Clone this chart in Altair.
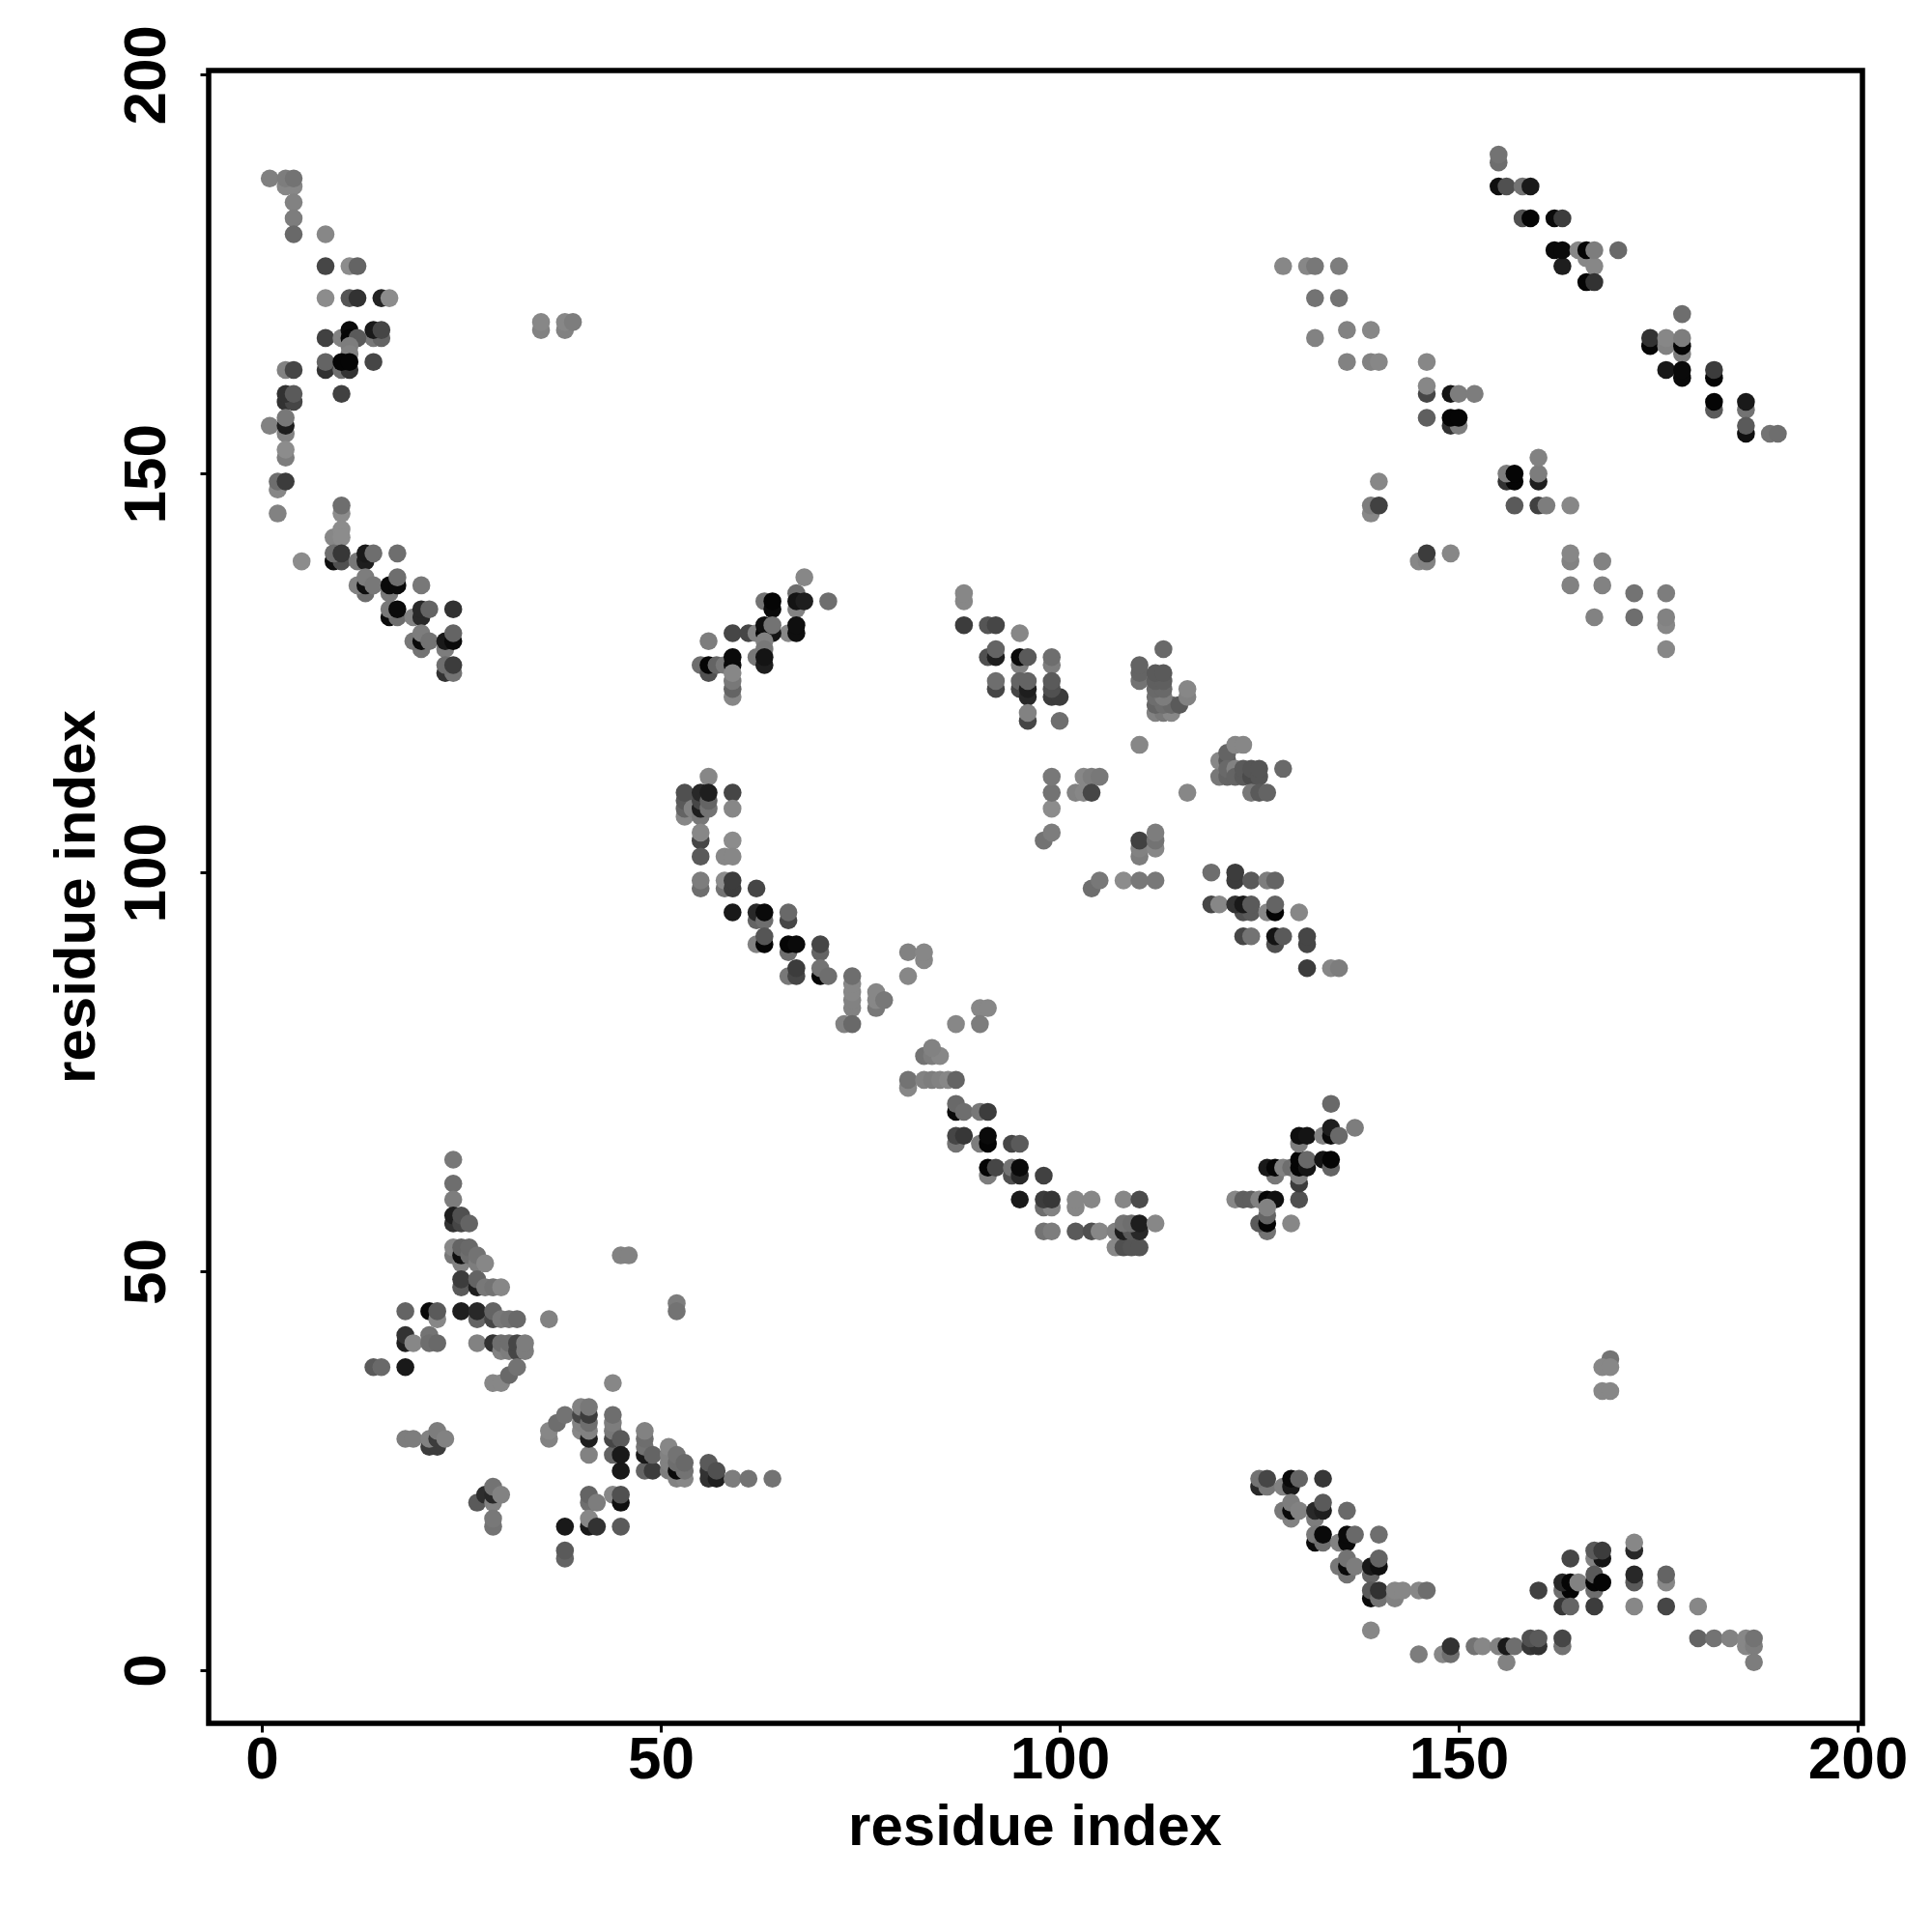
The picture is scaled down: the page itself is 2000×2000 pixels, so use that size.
import altair as alt
import pandas as pd

# each entry: residue i, residue j, grey level (0 = black, 255 = white)
top_left = [
(1,187,128),(3,186,135),(4,186,135),(3,187,125),(4,187,115),(4,184,130),(4,182,125),(4,180,105),
(8,180,135),(8,176,70),(11,176,140),(12,176,100),(8,172,140),(11,172,85),(12,172,50),(15,172,35),(16,172,140),
(8,167,65),(10,167,130),(11,168,10),(11,167,5),(14,167,120),(15,167,100),(14,168,25),(15,168,70),(12,167,90),
(11,166,125),(11,165,130),(8,163,50),(8,164,100),(10,163,110),(11,163,50),(10,164,5),(11,164,5),(14,164,70),
(3,163,130),(4,163,70),(10,160,65),(3,159,50),(4,159,70),(3,160,50),(4,160,90),
(1,156,130),(3,155,130),(3,156,30),(3,157,120),(3,152,125),(3,153,140),(2,148,135),(2,149,110),(3,149,60),(2,145,130),
]
helix_b = [
(10,145,140),(10,146,110),(9,142,135),(10,143,140),(10,142,140),(5,139,140),(9,139,15),(10,139,80),(9,140,110),(10,140,55),
(12,139,120),(13,139,30),(13,140,25),(14,140,110),(17,140,110),
(13,135,110),(12,136,130),(13,136,15),(13,137,125),(14,136,120),(16,135,120),(16,136,10),(17,136,10),(17,137,110),(20,136,120),
(16,132,10),(17,132,110),(16,133,120),(17,133,10),(19,132,130),(20,132,40),(20,133,40),(21,133,100),(24,133,50),
(19,129,120),(20,128,115),(20,129,10),(20,130,125),(21,129,115),(23,128,125),(23,129,25),(24,129,10),(24,130,100),
(23,125,50),(24,125,115),(23,126,110),(24,126,60),
(35,168,130),(35,169,135),(38,168,130),(38,169,135),(39,169,125),
]
mid_upper = [
(68,137,135),(67,133,130),(67,135,110),(67,134,20),(68,134,30),(71,134,110),(63,134,115),(64,133,10),(64,134,5),
(66,130,135),(67,130,15),(67,131,15),(59,130,70),(61,130,70),(62,130,130),(63,130,5),(64,130,20),(63,131,15),(64,131,115),
(56,129,125),(63,129,130),(63,128,120),(62,127,120),(63,126,30),(63,127,20),
(55,126,110),(56,125,80),(56,126,5),(57,126,100),(58,126,120),(59,126,10),(59,127,10),
(59,122,135),(59,123,100),(59,124,120),(59,125,135),
(88,134,135),(88,135,135),(88,131,60),(91,131,85),(92,131,70),(95,130,135),
(91,127,80),(92,127,30),(92,128,100),(95,126,130),(95,127,10),(96,127,90),(99,126,125),(99,127,110),
(92,123,70),(92,124,110),(95,123,70),(95,124,100),(96,122,40),(96,123,30),(96,124,100),
(99,122,60),(100,122,60),(99,123,80),(99,124,90),(96,119,70),(96,120,130),(100,119,110),
]
mid_right = [
(113,128,105),(110,124,115),(110,125,100),(110,126,100),
(112,120,130),(113,120,120),(114,120,135),(112,121,100),(113,121,110),(114,121,105),(115,121,90),
(112,122,110),(113,122,125),(112,123,105),(113,123,105),(112,124,95),(113,124,95),(112,125,90),(113,125,90),
(116,122,130),(116,123,135),(110,116,135),
(99,108,140),(99,110,115),(99,112,120),(98,104,115),(99,105,125),
(103,112,135),(104,112,125),(105,112,120),(102,110,130),(103,110,135),(104,110,70),(116,110,135),
(120,112,120),(120,114,135),(121,112,100),(121,114,90),(121,115,100),(122,116,135),(123,116,135),
(121,113,105),(122,113,130),(122,112,100),(123,112,90),(123,113,90),(124,112,75),(124,113,85),(125,112,85),(125,113,85),(128,113,105),
(124,110,120),(125,110,90),(126,110,100),
(110,102,125),(110,103,130),(110,104,65),(112,103,135),(112,104,115),(112,105,125),
(104,98,110),(105,99,120),(108,99,140),(110,99,120),(112,99,120),
(119,100,110),(122,99,60),(122,100,60),(124,99,90),(126,99,125),(127,99,100),
(119,96,70),(120,96,135),(123,95,80),(124,95,90),(122,96,50),(123,96,25),(124,96,90),(126,95,135),(127,95,5),(127,96,100),(130,95,135),
(123,92,70),(124,92,115),(127,91,80),(127,92,20),(128,92,90),(131,91,70),(131,92,70),(131,88,60),(134,88,135),(135,88,125),
]
helix_c = [
(56,112,135),(53,107,135),(53,108,100),(53,109,90),(53,110,80),(54,108,130),(55,107,120),(55,108,30),(55,109,70),(55,110,40),
(56,108,115),(56,109,100),(56,110,30),(59,110,70),(59,108,135),
(55,104,70),(55,105,135),(55,102,90),(59,104,140),(58,102,135),(59,102,135),
(55,98,110),(55,99,125),(58,98,115),(58,99,140),(59,98,60),(59,99,60),(62,98,70),
(59,95,25),(62,94,100),(62,95,40),(63,94,110),(63,95,10),(66,94,70),(66,95,105),
(62,91,130),(63,91,5),(63,92,85),(66,90,110),(66,91,5),(67,91,10),(70,90,100),(70,91,70),
(66,87,120),(67,87,70),(67,88,60),(70,87,5),(70,88,115),(71,87,110),
(74,83,130),(74,84,130),(74,85,135),(74,86,135),(74,87,110),(73,81,130),(74,81,105),
(77,83,120),(77,84,135),(77,85,135),(78,84,120),(81,90,130),(83,89,135),(83,90,135),(81,87,135),
(87,81,135),(90,83,135),(91,83,135),(90,81,125),(83,77,115),(84,77,125),(85,77,135),(84,78,130),
(81,73,135),(81,74,115),(83,74,130),(84,74,125),(85,74,130),(86,74,135),(87,74,100),
(87,70,10),(87,71,105),(88,70,110),(90,70,120),(91,70,60),
(87,66,115),(87,67,70),(88,67,55),(90,66,125),(91,66,5),(91,67,10),(94,66,70),(95,66,90),
(91,62,125),(91,63,5),(92,63,70),(94,62,80),(94,63,115),(95,62,40),(95,63,10),(98,62,65),
(95,59,25),(98,58,110),(99,58,130),(98,59,60),(99,59,55),(102,58,135),(102,59,135),(104,59,135),(108,59,135),(110,59,75),
(98,55,115),(99,55,125),(102,55,90),(104,55,80),(105,55,135),
(107,53,135),(108,53,80),(109,53,85),(110,53,85),(107,55,130),(108,55,30),(109,55,90),(110,55,40),(108,56,115),(109,56,110),(110,56,30),(112,56,135),
]
mid_lower = [
(122,59,135),(123,59,95),(124,59,95),(125,59,130),(126,59,5),(127,59,15),(130,59,80),
(126,55,115),(125,56,90),(126,56,5),(126,57,100),(126,58,130),(129,56,135),
(127,62,120),(126,63,25),(127,63,5),(128,63,130),(129,63,110),(130,61,60),(130,62,130),(130,63,5),(130,64,5),(131,63,20),(131,64,105),
(133,64,20),(134,63,100),(134,64,5),(130,66,125),(130,67,15),(131,67,20),(133,67,130),(134,67,10),(134,68,30),(135,67,105),(137,68,125),(134,71,105),
]
bottom_left = [
(24,64,120),(24,61,110),(24,59,125),(24,56,50),(24,57,30),(25,56,70),(25,57,80),(26,56,100),
(24,52,120),(24,53,135),(25,51,130),(25,52,15),(25,53,100),(26,52,110),(26,53,105),(27,51,125),(27,52,115),(28,51,135),
(25,48,90),(25,49,60),(27,48,30),(27,49,100),(28,48,120),(29,48,115),(30,48,135),
(18,45,100),(21,45,10),(22,44,135),(22,45,90),(25,45,30),(27,44,100),(27,45,40),(29,44,70),(29,45,100),(30,44,120),(31,44,115),(32,44,105),(36,44,130),
(18,41,30),(18,42,50),(19,41,135),(21,42,115),(21,41,110),(22,41,105),
(27,41,130),(29,41,50),(30,40,130),(30,41,110),(31,40,125),(31,41,110),(32,40,70),(32,41,70),(33,40,125),(33,41,125),
(14,38,90),(15,38,105),(18,38,25),(29,36,135),(30,36,135),(31,37,105),(32,38,115),(44,36,135),(45,52,130),(46,52,130),(52,46,125),(52,45,115),
(18,29,125),(19,29,125),(21,28,60),(22,28,60),(21,29,130),(22,29,60),(22,30,125),(23,29,130),
(36,29,130),(36,30,135),(37,31,110),(38,32,115),
(40,30,135),(40,31,130),(40,32,70),(40,33,130),(41,27,130),(41,29,30),(41,30,130),(41,31,110),(41,32,60),(41,33,120),
(44,27,100),(44,29,70),(44,30,120),(44,31,125),(44,32,110),(45,29,90),(45,25,25),(45,27,25),
(48,25,100),(49,25,60),(48,27,25),(48,28,115),(48,29,110),(48,30,130),(49,27,100),
(51,25,125),(51,26,130),(51,27,130),(51,28,135),(52,24,130),(53,24,135),(52,25,10),(53,25,115),(52,26,110),(52,27,115),(53,26,105),
(56,24,50),(56,25,50),(56,26,90),(57,24,30),(57,25,80),(59,24,125),(61,24,115),(64,24,115),
(27,21,90),(28,22,45),(29,21,130),(29,22,40),(29,23,115),(30,22,130),(29,18,115),(29,19,120),
(41,21,110),(41,22,100),(42,21,125),(44,22,135),(45,21,15),(45,22,80),
(38,18,25),(41,18,25),(41,19,135),(42,18,50),(45,18,90),(38,14,100),(38,15,90),
]
bottom_right = [
(169,39,115),(168,38,135),(169,38,135),(168,35,135),(169,35,135),
(125,23,40),(126,23,120),(125,24,115),(126,24,70),(128,23,130),(129,23,25),(129,24,10),(130,24,100),(133,24,55),
(129,19,130),(128,20,120),(129,20,10),(129,21,125),(130,20,130),(132,19,125),(132,20,40),(133,20,30),(133,21,90),(136,20,105),
(132,16,10),(132,17,120),(133,16,110),(133,17,10),(135,16,130),(136,16,10),(136,17,10),(137,17,105),(140,17,110),
(135,13,120),(136,12,115),(136,13,10),(136,14,115),(137,13,125),(139,12,100),(139,13,25),(140,13,15),(140,14,100),
(139,9,10),(139,10,90),(140,9,115),(140,10,50),(142,9,130),(142,10,135),(143,10,135),(145,10,135),(146,10,110),
(139,5,135),(145,2,125),(148,2,135),(149,2,110),(149,3,50),(152,3,115),(153,3,135),(155,3,130),(156,1,130),(156,3,25),(157,3,110),
(159,3,55),(160,3,50),(159,4,80),(160,4,90),(163,3,115),(163,4,70),
(164,14,70),(167,14,130),(168,14,20),(167,15,90),(168,15,60),(172,15,40),(172,16,135),
(160,10,65),(163,10,110),(164,10,5),(163,11,40),(164,11,5),(165,11,130),(167,10,110),(167,11,5),(167,12,90),(168,11,5),
(172,11,90),(172,12,40),(176,11,135),(176,12,100),
(163,8,55),(164,8,100),(167,8,60),(172,8,135),(176,8,70),(180,8,135),
(180,4,100),(182,4,115),(184,4,130),(186,3,135),(186,4,135),(187,3,125),(187,4,115),(187,1,125),
]
top_right = [
(155,189,110),(155,190,115),(155,186,15),(156,186,80),(158,186,115),(159,186,25),
(158,182,80),(159,182,5),(162,182,10),(163,182,60),
(162,178,10),(163,176,30),(163,178,10),(165,178,135),(166,177,135),(166,178,5),(167,176,135),(167,178,125),(170,178,105),(166,174,5),(167,174,50),
(128,176,135),(131,176,135),(132,176,120),(135,176,125),(132,172,115),(135,172,115),
(132,167,130),(136,168,130),(139,168,135),(136,164,130),(139,164,130),(140,164,135),(146,164,135),
(146,160,70),(146,161,135),(149,160,20),(150,160,125),(152,160,125),
(146,157,95),(149,156,50),(150,156,125),(149,157,5),(150,157,5),
(178,170,110),(174,166,5),(174,167,50),(176,166,130),(176,167,135),(178,165,125),(178,166,5),(178,167,125),
(176,163,25),(178,162,10),(178,163,10),(182,162,5),(182,163,60),
(182,158,90),(182,159,5),(186,158,115),(186,159,25),(186,155,15),(186,156,90),(189,155,115),(190,155,110),
(156,149,50),(157,149,5),(156,150,125),(157,150,5),(160,149,30),(160,150,125),(160,152,130),
(157,146,90),(160,146,65),(161,146,125),(164,146,135),
(139,145,135),(139,146,125),(140,146,65),(140,149,135),
(145,139,135),(146,139,130),(146,140,60),(149,140,135),
(164,139,130),(164,140,135),(168,139,130),(164,136,130),(168,136,130),(172,135,115),(176,135,125),
(167,132,130),(172,132,110),(176,131,135),(176,132,130),(176,128,135),
]

rows = (top_left + helix_b + mid_upper + mid_right + helix_c + mid_lower
        + bottom_left + bottom_right + top_right)
df = pd.DataFrame(rows, columns=["i", "j", "grey"])
df["n"] = range(len(df))

ticks = [0, 50, 100, 150, 200]
font = "Liberation Sans"

x_axis = alt.Axis(values=ticks, title="residue index", grid=False, domain=False,
                  tickSize=9, tickWidth=3, tickColor="black", labelFont=font, labelFontSize=62,
                  labelFontWeight="bold", labelColor="black", labelPadding=47, labelBaseline="alphabetic",
                  labelOverlap=False, labelFlush=False, labelBound=False,
                  titleFont=font, titleFontSize=60, titleFontWeight="bold", titleColor="black",
                  titleX=855, titleY=125, titleBaseline="alphabetic", titleAlign="center")
y_axis = alt.Axis(values=ticks, title="residue index", grid=False, domain=False,
                  tickSize=9, tickWidth=3, tickColor="black", labelFont=font, labelFontSize=62,
                  labelFontWeight="bold", labelColor="black", labelAngle=270, labelAlign="center",
                  labelBaseline="alphabetic", labelPadding=37, labelOverlap=False, labelFlush=False, labelBound=False,
                  titleFont=font, titleFontSize=60, titleFontWeight="bold", titleColor="black",
                  titleAngle=270, titleX=-119, titleY=855, titleBaseline="alphabetic", titleAlign="center")

chart = (
    alt.Chart(df)
    .mark_circle(size=345, opacity=1)
    .encode(
        x=alt.X("i:Q", axis=x_axis, scale=alt.Scale(domain=[-6.65, 200.6], nice=False, zero=False)),
        y=alt.Y("j:Q", axis=y_axis, scale=alt.Scale(domain=[-6.66, 200.53], nice=False, zero=False)),
        color=alt.Color("grey:Q", legend=None,
                        scale=alt.Scale(domain=[0, 255], range=["#000000", "#ffffff"], interpolate="rgb")),
        order=alt.Order("n:Q"),
    )
    .properties(width=1712, height=1711, background="white", autosize=alt.AutoSizeParams(type="none"),
                padding={"left": 208, "top": 65, "right": 60, "bottom": 200})
    .configure_view(stroke="black", strokeWidth=5.5)
)
chart.save("out.html", embed_options={"renderer": "svg", "actions": False})
